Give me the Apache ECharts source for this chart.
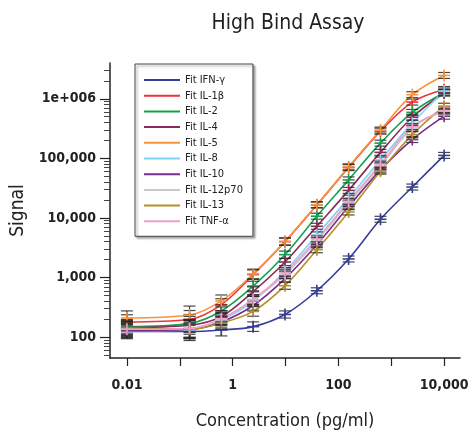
<!DOCTYPE html>
<html lang="en">
<head>
    <meta charset="UTF-8">
    <title>High Bind Assay</title>
    <script src="https://cdn.jsdelivr.net/npm/echarts@6/dist/echarts.min.js"></script>
    <style>
        * { margin: 0; padding: 0; box-sizing: border-box; }
        body { background: #fff; }
        #chart { width: 470px; height: 438px; }
    </style>
</head>
<body>
    <div id="chart"></div>

    <script>
        // concentrations (pg/ml), 4-fold dilution series plus blank
        const conc = [0.01, 0.153, 0.61, 2.44, 9.77, 39.1, 156, 625, 2500, 10000];

        const analytes = ['IFN-γ', 'IL-1β', 'IL-2', 'IL-4', 'IL-5', 'IL-8', 'IL-10', 'IL-12p70', 'IL-13', 'TNF-α'];
        const colors = ['#363f98', '#ee3338', '#12a24c', '#8c2a58', '#f7933b', '#7fd3f3', '#7a2d8c', '#c6c8cf', '#b68e2c', '#f0a0c8'];

        // signal values
        const ifnG   = [124, 124, 132, 150, 240, 600, 2050, 9500, 33000, 112000];
        const il1b   = [180, 198, 350, 1120, 4000, 16500, 70000, 286000, 880000, 1430000];
        const il2    = [150, 170, 275, 720, 2420, 10700, 43500, 180000, 590000, 1260000];
        const il4    = [145, 158, 222, 580, 1820, 7250, 29000, 126000, 490000, 1250000];
        const il5    = [209, 235, 405, 1150, 4040, 16700, 72000, 298000, 1170000, 2460000];
        const il8    = [128, 132, 195, 400, 1280, 5200, 21500, 94000, 390000, 1350000];
        const il10   = [130, 135, 180, 340, 960, 3550, 15500, 64000, 207000, 510000];
        const il12   = [138, 140, 200, 420, 1120, 4100, 17800, 74000, 320000, 660000];
        const il13   = [142, 136, 172, 270, 730, 2930, 12600, 61000, 250000, 750000];
        const tnfA   = [136, 140, 205, 430, 1200, 4450, 19000, 80000, 340000, 620000];
        const signals = [ifnG, il1b, il2, il4, il5, il8, il10, il12, il13, tnfA];

        // error bar half-height per concentration, in log10 units
        const errLog = [0.12, 0.15, 0.1, 0.08, 0.06, 0.05, 0.05, 0.05, 0.05, 0.05];

        // axis ticks
        const xTicks = [-2, -1, 0, 1, 2, 3, 4];
        const xLabels = { '-2': '0.01', '0': '1', '2': '100', '4': '10,000' };
        const yTicks = [2, 3, 4, 5, 6];
        const yLabels = { '2': '100', '3': '1,000', '4': '10,000', '5': '100,000', '6': '1e+006' };

        const FONT = "'Liberation Sans Narrow', 'DejaVu Sans Condensed', 'Liberation Sans', sans-serif";
        const yMin = 1.65, yMax = 6.6;

        const yMinor = [];
        for (let d = 1; d <= 6; d++) {
            for (let k = 2; k <= 9; k++) {
                const v = Math.log10(k * Math.pow(10, d));
                if (v > yMin && v < yMax) yMinor.push(v);
            }
        }

        const series = [];
        analytes.forEach(function (name, i) {
            const pts = conc.map(function (c, j) {
                return [Math.log10(c), Math.log10(signals[i][j]), errLog[j]];
            });
            series.push({
                name: 'Fit ' + name,
                type: 'line',
                data: pts.map(function (p) { return [p[0], p[1]]; }),
                smooth: 0.35,
                showSymbol: false,
                lineStyle: { color: colors[i], width: 1.6 },
                itemStyle: { color: colors[i] },
                z: 2
            });
            series.push({
                name: 'pts ' + name,
                type: 'custom',
                data: pts,
                z: 3,
                renderItem: function (params, api) {
                    const x = api.value(0), y = api.value(1), e = api.value(2);
                    const p = api.coord([x, y]);
                    const hi = api.coord([x, y + e]);
                    const lo = api.coord([x, y - e]);
                    const cap = 6, arm = 6;
                    const bar = { stroke: 'rgba(40,40,40,0.85)', lineWidth: 1.2 };
                    const mark = { stroke: colors[i], lineWidth: 1.6 };
                    return {
                        type: 'group',
                        children: [
                            { type: 'line', shape: { x1: p[0], y1: hi[1], x2: p[0], y2: lo[1] }, style: bar },
                            { type: 'line', shape: { x1: p[0] - cap, y1: hi[1], x2: p[0] + cap, y2: hi[1] }, style: bar },
                            { type: 'line', shape: { x1: p[0] - cap, y1: lo[1], x2: p[0] + cap, y2: lo[1] }, style: bar },
                            { type: 'line', shape: { x1: p[0] - arm, y1: p[1], x2: p[0] + arm, y2: p[1] }, style: mark },
                            { type: 'line', shape: { x1: p[0], y1: p[1] - arm, x2: p[0], y2: p[1] + arm }, style: mark }
                        ]
                    };
                }
            });
        });

        const chart = echarts.init(document.getElementById('chart'));
        chart.setOption({
            animation: false,
            title: {
                text: 'High Bind Assay',
                left: 283,
                textAlign: 'center',
                top: 8,
                textStyle: { fontFamily: FONT, fontSize: 21, fontWeight: 'normal', color: '#222' }
            },
            legend: {
                orient: 'vertical',
                left: 135,
                top: 64,
                data: analytes.map(function (a) { return 'Fit ' + a; }),
                icon: 'rect',
                itemWidth: 36,
                itemHeight: 2,
                itemGap: 1.7,
                padding: [9, 10, 8, 9],
                borderColor: '#444',
                borderWidth: 1,
                backgroundColor: '#fff',
                shadowColor: 'rgba(0,0,0,0.35)',
                shadowBlur: 2,
                shadowOffsetX: 2,
                shadowOffsetY: 2,
                textStyle: { fontFamily: FONT, fontSize: 11, lineHeight: 14, color: '#222' }
            },
            grid: { left: 110, right: 10, top: 63, bottom: 80, containLabel: false, outerBoundsMode: 'none' },
            xAxis: {
                type: 'value',
                min: -2.32,
                max: 4.3,
                name: 'Concentration (pg/ml)',
                nameLocation: 'middle',
                nameGap: 54,
                nameTextStyle: { fontFamily: FONT, fontSize: 18, color: '#222' },
                splitLine: { show: false },
                axisLine: { onZero: false, lineStyle: { color: '#222', width: 1.5 } },
                axisTick: { customValues: xTicks, length: 8, lineStyle: { color: '#222', width: 1.2 } },
                axisLabel: {
                    customValues: [-2, 0, 2, 4],
                    formatter: function (v) { return xLabels[String(Math.round(v))] || ''; },
                    fontFamily: FONT, fontSize: 14, fontWeight: 'bold', color: '#222', margin: 20
                }
            },
            yAxis: [{
                type: 'value',
                min: yMin,
                max: yMax,
                name: 'Signal',
                nameLocation: 'middle',
                nameGap: 78,
                nameTextStyle: { fontFamily: FONT, fontSize: 19, color: '#222' },
                splitLine: { show: false },
                axisLine: { onZero: false, lineStyle: { color: '#222', width: 1.5 } },
                axisTick: { customValues: yTicks, length: 10, lineStyle: { color: '#222', width: 1.2 } },
                axisLabel: {
                    customValues: yTicks,
                    formatter: function (v) { return yLabels[String(Math.round(v))] || ''; },
                    fontFamily: FONT, fontSize: 14, fontWeight: 'bold', color: '#222', margin: 14
                }
            }, {
                type: 'value',
                min: yMin,
                max: yMax,
                position: 'left',
                splitLine: { show: false },
                axisLine: { show: false, onZero: false },
                axisLabel: { show: false },
                axisTick: { customValues: yMinor, length: 6, lineStyle: { color: '#444', width: 1 } }
            }],
            series: series
        });
    </script>
</body>
</html>
